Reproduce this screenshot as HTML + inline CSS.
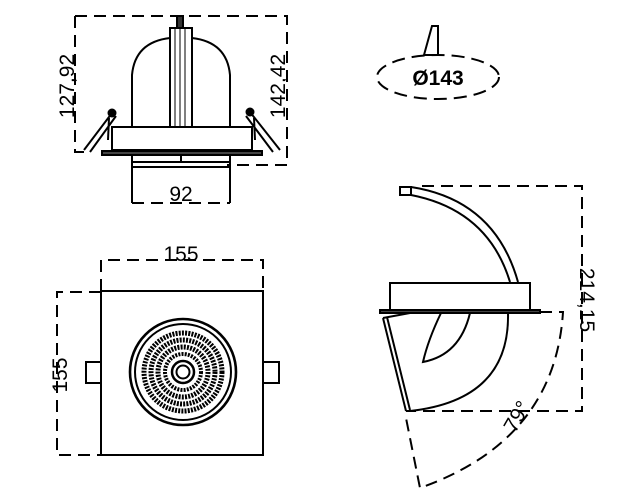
<!DOCTYPE html>
<html><head><meta charset="utf-8"><style>
html,body{margin:0;padding:0;background:#fff;width:625px;height:503px;overflow:hidden}
svg{display:block}
text{font-family:"Liberation Sans",sans-serif;fill:#000}
</style></head><body>
<svg width="625" height="503" viewBox="0 0 625 503" xmlns="http://www.w3.org/2000/svg">
<g fill="none" stroke="#000" stroke-width="2">
<g stroke-dasharray="12,7">
<path d="M75 16 H287 V165 H227"/>
<path d="M75 16 V152 H86"/>
<path d="M132 203 H230"/>
</g>
<path d="M132 167 V203 M230 167 V203"/>
<rect x="177" y="16" width="6" height="12" fill="#333"/>
<rect x="170" y="28" width="22" height="99"/>
<path d="M175 28 V127 M180 28 V127 M185 28 V127" stroke-width="1"/>
<path d="M132 127 V75 Q135 42 170 38 M192 38 Q227 42 230 75 V127"/>
<rect x="112" y="127" width="140" height="23"/>
<rect x="102" y="151" width="160" height="4" fill="#444"/>
<path d="M132 155 V167 H230 V155 M132 162 H230 M181 155 V162"/>
<circle cx="112" cy="113" r="3.5" fill="#000"/>
<path d="M112 113 L84 150 M116 116 L90 152 M109 118 L108 140"/>
<circle cx="250" cy="112" r="3.5" fill="#000"/>
<path d="M250 112 L280 150 M246 116 L273 152 M254 118 L255 140"/>
<ellipse cx="438" cy="77" rx="61" ry="22" stroke-dasharray="13,7"/>
<path d="M438 25 V55 H424 L432 26 H438"/>
<g stroke-dasharray="12,7">
<path d="M101 291 V260 H263 V291"/>
<path d="M101 292 H57 V455 H101"/>
</g>
<rect x="101" y="291" width="162" height="164"/>
<rect x="86" y="362" width="15" height="21"/>
<rect x="263" y="362" width="16" height="21"/>
<circle cx="183" cy="372" r="53" stroke-width="2.6"/>
<circle cx="183" cy="372" r="48"/>
<circle cx="183" cy="372" r="39" stroke-dasharray="2,1.2" stroke-width="5"/>
<circle cx="183" cy="372" r="32" stroke-dasharray="2,1.2" stroke-width="5"/>
<circle cx="183" cy="372" r="25" stroke-dasharray="2,1.2" stroke-width="5"/>
<circle cx="183" cy="372" r="18" stroke-dasharray="2,1.2" stroke-width="4"/>
<circle cx="183" cy="372" r="11" fill="#fff" stroke-width="2.5"/>
<circle cx="183" cy="372" r="6.5"/>
<g stroke-dasharray="12,7">
<path d="M422 186 H582 V411 H406"/>
<path d="M540 312 H563 Q555 440 420 488 L405 413"/>
</g>
<rect x="400" y="187" width="11" height="8"/>
<path d="M411 187 Q495 200 518 282 M411 195 Q488 210 510 282"/>
<rect x="390" y="283" width="140" height="27"/>
<rect x="380" y="310" width="160" height="3" fill="#444"/>
<path d="M383 318 L406 411 M387 317 L410 410 M383 318 L410 313"/>
<path d="M508 313 Q510 400 410 411"/>
<path d="M441 313 Q428 340 423 362 Q460 355 470 313"/>
</g>
<text x="438" y="85" font-size="21" font-weight="bold" text-anchor="middle">Ø143</text>
<text x="181" y="201" font-size="21" text-anchor="middle">92</text>
<text x="181" y="261" font-size="21" text-anchor="middle">155</text>
<text transform="translate(74,86) rotate(-90)" font-size="21" text-anchor="middle">127,92</text>
<text transform="translate(285,86) rotate(-90)" font-size="21" text-anchor="middle">142,42</text>
<text transform="translate(67,375) rotate(-90)" font-size="21" text-anchor="middle">155</text>
<text transform="translate(580,300) rotate(90)" font-size="21" text-anchor="middle">214,15</text>
<text transform="translate(523,420) rotate(-60)" font-size="21" text-anchor="middle">79°</text>
</svg>
</body></html>
